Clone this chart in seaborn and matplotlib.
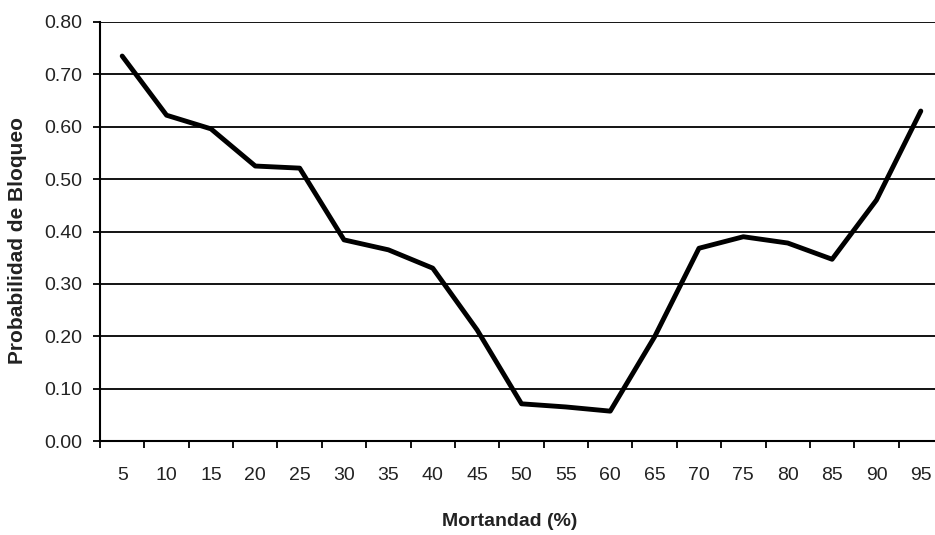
import matplotlib
matplotlib.use("Agg")
import matplotlib.pyplot as plt
import seaborn as sns
import numpy as np
import pandas as pd

categories = ["5", "10", "15", "20", "25", "30", "35", "40", "45", "50",
              "55", "60", "65", "70", "75", "80", "85", "90", "95"]
values = [0.735, 0.622, 0.596, 0.525, 0.521, 0.384, 0.365, 0.330, 0.212, 0.071,
          0.065, 0.057, 0.199, 0.368, 0.390, 0.378, 0.347, 0.460, 0.630]
yticks = [0.0, 0.1, 0.2, 0.3, 0.4, 0.5, 0.6, 0.7, 0.8]

sns.set_theme(style="white")
plt.rcParams['font.family'] = ['Liberation Sans', 'DejaVu Sans']

df = pd.DataFrame({"pos": np.arange(len(categories)), "val": values})

fig = plt.figure(figsize=(9.35, 5.35), dpi=100)
ax = fig.add_axes([100/935, 1-441/535, 843/935, (441-22)/535])

for y in yticks[1:]:
    ax.axhline(y, color="black", lw=1.3, zorder=1)

sns.lineplot(data=df, x="pos", y="val", color="black", lw=3.5, ax=ax, zorder=3)

ax.set_xlim(-0.5, len(categories)-0.5)
ax.set_ylim(0, 0.8)
ax.set_xticks(np.arange(len(categories)))
ax.set_xticklabels(categories)
ax.set_xticks(np.arange(len(categories)+1)-0.5, minor=True)
ax.tick_params(axis="x", which="major", length=0, pad=18.5, labelsize=14, colors="#222222")
ax.tick_params(axis="x", which="minor", length=5, width=1.3, direction="out", color="black", bottom=True)
ax.set_yticks(yticks)
ax.set_yticklabels([f"{v:.2f}" for v in yticks])
ax.tick_params(axis="y", which="major", length=5, width=1.3, direction="out", color="black", left=True, labelsize=14, pad=8, labelcolor="#222222")

for s in ["top", "right"]:
    ax.spines[s].set_visible(False)
for s in ["left", "bottom"]:
    ax.spines[s].set_color("black")
    ax.spines[s].set_linewidth(1.5)

ax.set_xlabel("Mortandad (%)", fontsize=14, fontweight="bold", color="#222222")
ax.xaxis.set_label_coords((510-100)/843, -(522-441)/419, transform=ax.transAxes)
ax.xaxis.label.set_va("center")
ax.set_ylabel("Probabilidad de Bloqueo", fontsize=15, fontweight="bold", color="#222222")
ax.yaxis.set_label_coords(-(100-18)/843, (441-241)/419, transform=ax.transAxes)
ax.yaxis.label.set_va("center")

fig.savefig("out.png", dpi=100)
